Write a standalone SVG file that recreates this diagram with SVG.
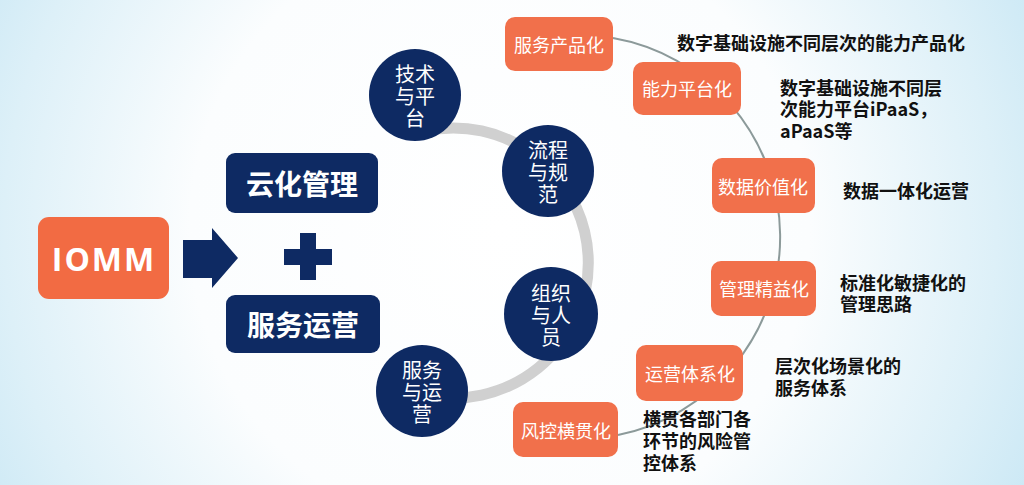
<svg xmlns="http://www.w3.org/2000/svg" width="1024" height="485" viewBox="0 0 1024 485">
<defs>
<radialGradient id="bg" cx="500" cy="230" r="620" gradientUnits="userSpaceOnUse">
<stop offset="0" stop-color="#FFFFFF"/>
<stop offset="0.5" stop-color="#FBFDFE"/>
<stop offset="0.8" stop-color="#DDF0F8"/>
<stop offset="1" stop-color="#C6E6F4"/>
</radialGradient>
<style>
.navy{fill:#0E2A63}
.orange{fill:#F1704B}
.big{font-family:"Noto Sans CJK SC","Noto Sans",sans-serif;font-weight:bold;font-size:28px;fill:#fff;text-anchor:middle;dominant-baseline:central}
.circ{font-family:"Noto Sans CJK SC","Noto Sans",sans-serif;font-size:20px;fill:#fff;text-anchor:middle;dominant-baseline:central}
.box{font-family:"Noto Sans CJK SC","Noto Sans",sans-serif;font-size:18px;fill:#fff;text-anchor:middle;dominant-baseline:central}
.desc{font-family:"Noto Sans CJK SC","Noto Sans",sans-serif;font-weight:bold;font-size:18px;fill:#111;dominant-baseline:central}
</style>
</defs>
<rect width="1024" height="485" fill="url(#bg)"/>

<g id="connectors">
<path d="M 425 131 A 135 135 0 1 1 425 395" fill="none" stroke="#D0D0D0" stroke-width="11"/>
<path d="M 613 38 A 202 202 0 0 1 618 435" fill="none" stroke="#8C9A9A" stroke-width="2"/>
</g>

<g id="iomm">
<rect x="38" y="217" width="131" height="82" rx="11" fill="#F26B43"/>
<text x="104" y="258" font-family="'Open Sans','Liberation Sans',sans-serif" font-weight="bold" font-size="32" fill="#fff" text-anchor="middle" dominant-baseline="central" letter-spacing="2">IOMM</text>
</g>

<g id="arrow">
<path class="navy" d="M183 240 H212 V228 L238 258 L212 288 V278 H183 Z"/>
</g>

<g id="plus">
<rect class="navy" x="284" y="249" width="48" height="16"/>
<rect class="navy" x="300" y="233" width="16" height="47"/>
</g>

<g id="cloud-mgmt">
<rect class="navy" x="226" y="153" width="152" height="60" rx="9"/>
<text class="big" x="302" y="183">云化管理</text>
</g>

<g id="service-ops">
<rect class="navy" x="226" y="295" width="154" height="58" rx="9"/>
<text class="big" x="303" y="324">服务运营</text>
</g>

<g id="tech">
<circle class="navy" cx="415" cy="95" r="46"/>
<text class="circ" x="415" y="73">技术</text>
<text class="circ" x="415" y="95">与平</text>
<text class="circ" x="415" y="117">台</text>
</g>

<g id="process">
<circle class="navy" cx="548" cy="171" r="46"/>
<text class="circ" x="548" y="149">流程</text>
<text class="circ" x="548" y="171">与规</text>
<text class="circ" x="548" y="193">范</text>
</g>

<g id="org">
<circle class="navy" cx="551" cy="314" r="47"/>
<text class="circ" x="551" y="292">组织</text>
<text class="circ" x="551" y="314">与人</text>
<text class="circ" x="551" y="336">员</text>
</g>

<g id="service">
<circle class="navy" cx="422" cy="391" r="46"/>
<text class="circ" x="422" y="369">服务</text>
<text class="circ" x="422" y="391">与运</text>
<text class="circ" x="422" y="413">营</text>
</g>

<g id="b1">
<rect class="orange" x="505" y="17" width="108" height="54" rx="10"/>
<text class="box" x="559" y="44">服务产品化</text>
</g>
<g id="b2">
<rect class="orange" x="633" y="62" width="108" height="53" rx="10"/>
<text class="box" x="687" y="88">能力平台化</text>
</g>
<g id="b3">
<rect class="orange" x="712" y="158" width="103" height="55" rx="10"/>
<text class="box" x="763" y="186">数据价值化</text>
</g>
<g id="b4">
<rect class="orange" x="711" y="261" width="105" height="55" rx="10"/>
<text class="box" x="764" y="288">管理精益化</text>
</g>
<g id="b5">
<rect class="orange" x="636" y="345" width="107" height="56" rx="10"/>
<text class="box" x="690" y="373">运营体系化</text>
</g>
<g id="b6">
<rect class="orange" x="513" y="402" width="105" height="55" rx="10"/>
<text class="box" x="566" y="430">风控横贯化</text>
</g>

<g id="descriptions">
<text class="desc" x="677" y="42">数字基础设施不同层次的能力产品化</text>
<text class="desc" x="780" y="87">数字基础设施不同层</text>
<text class="desc" x="780" y="108">次能力平台iPaaS，</text>
<text class="desc" x="780" y="130">aPaaS等</text>
<text class="desc" x="843" y="190">数据一体化运营</text>
<text class="desc" x="840" y="282">标准化敏捷化的</text>
<text class="desc" x="840" y="303">管理思路</text>
<text class="desc" x="775" y="365">层次化场景化的</text>
<text class="desc" x="775" y="387">服务体系</text>
<text class="desc" x="643" y="418">横贯各部门各</text>
<text class="desc" x="643" y="440">环节的风险管</text>
<text class="desc" x="643" y="462">控体系</text>
</g>
</svg>
